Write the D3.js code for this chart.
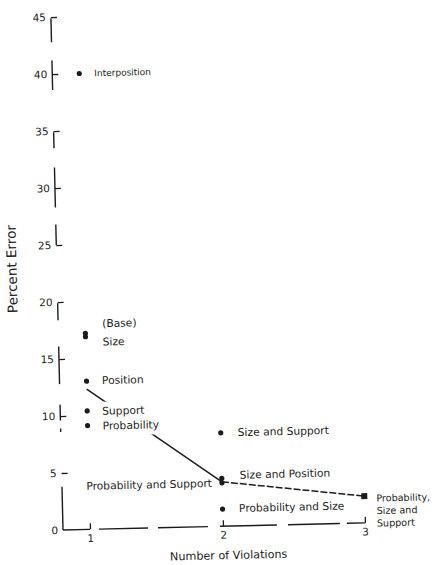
<!DOCTYPE html>
<html>
<head>
<meta charset="utf-8">
<script src="https://cdn.jsdelivr.net/npm/d3@7"></script>
<style>
  html, body { margin: 0; padding: 0; background: #fff; }
  svg text { font-family: "DejaVu Sans", sans-serif; fill: #1c1c1c; }
</style>
</head>
<body>
<svg id="chart" width="435" height="565"></svg>
<script>
// ---------- data ----------
const violationTicks = [1, 2, 3];
const percentTicks = [0, 5, 10, 15, 20, 25, 30, 35, 40, 45];
const conditionLabels = ["Interposition", "(Base)", "Size", "Position", "Support", "Probability",
  "Size and Support", "Size and Position", "Probability and Support", "Probability and Size",
  "Probability, Size and Support"];
const conditionViolations = [1, 1, 1, 1, 1, 1, 2, 2, 2, 2, 3];
const conditionError = [40, 17.2, 16.9, 13.0, 10.4, 9.1, 8.2, 4.2, 3.8, 1.5, 2.35];
const trendViolations = [1, 2, 3];
const trendError = [12.3, 3.9, 2.35];

// ---------- layout / style ----------
const W = 435, H = 565;
const axisX = 63, axisY = 530;
const ink = "#1c1c1c";
const x = d3.scaleLinear().domain([1, 2, 3]).range([90, 223, 365]);
const y = d3.scaleLinear().domain([0, 45]).range([axisY, 17]);

// broken (hand-drawn) axis segments, in data units
const yAxisPieces = [[44.9, 42.8], [41.2, 38.6], [34.9, 33.5], [31.8, 28.3], [26.8, 25.0],
  [19.9, 18.4], [16.1, 12.8], [11.0, 9.6], [8.9, 8.6], [3.8, 0]];
const xAxisPieces = [[null, 1.0], [1.068, 1.436], [1.511, 1.887], [1.977, 2.38], [2.458, 2.824], [2.873, 3.0]];

const svg = d3.select("#chart");
svg.append("rect").attr("width", W).attr("height", H).attr("fill", "#fff");
const g = svg.append("g").attr("transform", `rotate(-1.35, ${axisX}, ${axisY})`);

// y axis ticks + labels
const yAxis = d3.axisLeft(y).tickValues(percentTicks).tickSize(-6).tickPadding(5);
const gy = g.append("g").attr("transform", `translate(${axisX},0)`).call(yAxis);
gy.select(".domain").remove();
gy.selectAll(".tick line").attr("stroke", ink).attr("stroke-width", 1.3)
  .attr("x1", 0).style("display", d => d === 0 ? "none" : null);
gy.selectAll(".tick text").attr("font-size", 10.5).style("fill", ink)
  .attr("font-family", "DejaVu Sans, sans-serif");

g.append("g").selectAll("line").data(yAxisPieces).join("line")
  .attr("x1", axisX).attr("x2", axisX)
  .attr("y1", d => y(d[0])).attr("y2", d => y(d[1]))
  .attr("stroke", ink).attr("stroke-width", 1.4);

// x axis ticks + labels
const xAxis = d3.axisBottom(x).tickValues(violationTicks).tickSize(-6).tickPadding(5).tickFormat(d3.format("d"));
const gx = g.append("g").attr("transform", `translate(0,${axisY})`).call(xAxis);
gx.select(".domain").remove();
gx.selectAll(".tick line").attr("stroke", ink).attr("stroke-width", 1.3);
gx.selectAll(".tick text").attr("font-size", 10.5).style("fill", ink)
  .attr("font-family", "DejaVu Sans, sans-serif");

g.append("g").selectAll("line").data(xAxisPieces).join("line")
  .attr("x1", d => d[0] === null ? axisX : x(d[0])).attr("x2", d => x(d[1]))
  .attr("y1", axisY).attr("y2", axisY)
  .attr("stroke", ink).attr("stroke-width", 1.4);

// trend line
const trend = trendViolations.map((v, i) => [v, trendError[i]]);
g.append("path").datum(trend.slice(0, 2))
  .attr("d", d3.line().x(d => x(d[0])).y(d => y(d[1])))
  .attr("fill", "none").attr("stroke", ink).attr("stroke-width", 1.5);
g.append("path").datum(trend.slice(1, 3))
  .attr("d", d3.line().x(d => x(d[0])).y(d => y(d[1])))
  .attr("fill", "none").attr("stroke", ink).attr("stroke-width", 1.5)
  .attr("stroke-dasharray", "7,2");

// points
const pts = conditionLabels.map((l, i) => ({ label: l, v: conditionViolations[i], e: conditionError[i] }));
g.append("g").selectAll("circle").data(pts.filter(d => d.v < 3)).join("circle")
  .attr("cx", d => x(d.v)).attr("cy", d => y(d.e)).attr("r", 2.6).attr("fill", ink);
g.append("g").selectAll("rect").data(pts.filter(d => d.v === 3)).join("rect")
  .attr("x", d => x(d.v) - 3).attr("y", d => y(d.e) - 3).attr("width", 6).attr("height", 6).attr("fill", ink);

// point labels (placement)
const place = {
  "Interposition": { dx: 15, dy: 0, size: 9 },
  "(Base)": { dx: 17, dy: -9.5 },
  "Size": { dx: 17, dy: 5.5 },
  "Position": { dx: 15.5, dy: -0.5 },
  "Support": { dx: 15, dy: 0.5, mask: true },
  "Probability": { dx: 15, dy: 0.5, mask: true },
  "Size and Support": { dx: 17, dy: 0 },
  "Size and Position": { dx: 18, dy: -3 },
  "Probability and Support": { dx: -10, dy: 0, anchor: "end" },
  "Probability and Size": { dx: 16.5, dy: -0.5 },
  "Probability, Size and Support": { dx: 12, dy: 2.4, size: 9.6, lines: ["Probability,", "Size and", "Support"] }
};
const lg = g.append("g");
const maskG = lg.append("g");
pts.forEach(d => {
  const p = place[d.label];
  const t = lg.append("text")
    .attr("x", x(d.v) + p.dx).attr("y", y(d.e) + p.dy)
    .attr("dy", "0.35em")
    .attr("font-size", p.size || 10.7)
    .attr("text-anchor", p.anchor || "start");
  if (p.lines) {
    p.lines.forEach((ln, i) => {
      t.append("tspan").attr("x", x(d.v) + p.dx).attr("dy", i === 0 ? "0.35em" : "1.3em").text(ln);
    });
    t.attr("dy", null);
  } else {
    t.text(d.label);
  }
  if (p.mask) {
    const b = t.node().getBBox();
    maskG.append("rect")
      .attr("x", b.x - 3).attr("y", b.y - 3).attr("width", b.width + 5).attr("height", b.height + 6)
      .attr("fill", "#fff");
  }
});

// axis titles
g.append("text").attr("x", 228).attr("y", 563).attr("text-anchor", "middle")
  .attr("font-size", 11.2).text("Number of Violations");
g.append("text").attr("transform", "translate(18,268) rotate(-90)")
  .attr("text-anchor", "middle").attr("dy", "0.35em")
  .attr("font-size", 13.5).text("Percent Error");
</script>
</body>
</html>
